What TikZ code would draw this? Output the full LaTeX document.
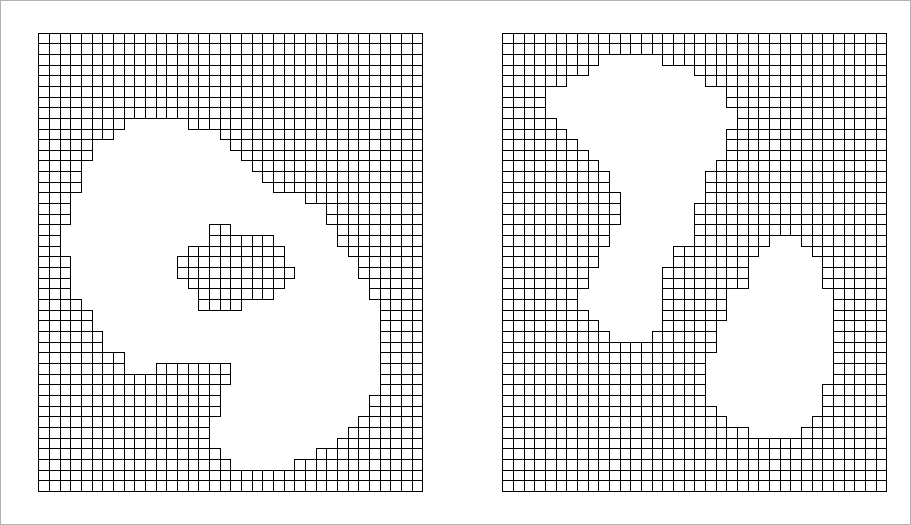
\documentclass[tikz,border=0pt]{standalone}
\begin{document}
\begin{tikzpicture}[x=0.3cm,y=-0.3cm,
  cell/.style={draw=black,line width=0.8pt},
  frame/.style={draw=black!30,line width=0.6pt}]
\useasboundingbox (0,0) rectangle (85.41,49.22);
\draw[frame] (0.05,0.05) rectangle (85.36,49.17);
% left grid
\begin{scope}[shift={(3.656,3.094)}]
\foreach \r/\a/\b in {0/0/35,1/0/35,2/0/35,3/0/35,4/0/35,5/0/35,6/0/35,7/0/35,
8/0/7,8/14/35,9/0/6,9/17/35,10/0/4,10/18/35,11/0/4,11/19/35,
12/0/3,12/20/35,13/0/3,13/21/35,14/0/3,14/22/35,15/0/2,15/25/35,
16/0/2,16/27/35,17/0/2,17/27/35,
18/0/1,18/16/17,18/28/35,19/0/1,19/16/21,19/28/35,
20/0/1,20/14/22,20/29/35,21/0/2,21/13/22,21/30/35,
22/0/2,22/13/23,22/30/35,23/0/2,23/14/22,23/31/35,
24/0/2,24/15/21,24/31/35,25/0/3,25/15/18,25/32/35,
26/0/4,26/32/35,27/0/4,27/32/35,28/0/5,28/32/35,29/0/5,29/32/35,
30/0/7,30/32/35,31/0/7,31/11/17,31/32/35,32/0/17,32/32/35,
33/0/16,33/32/35,34/0/16,34/31/35,35/0/16,35/31/35,
36/0/15,36/30/35,37/0/15,37/29/35,38/0/15,38/28/35,
39/0/16,39/26/35,40/0/17,40/24/35,41/0/35,42/0/35}{
  \foreach \c in {\a,...,\b}{\draw[cell] (\c,\r) rectangle ++(1,1);}
}
\end{scope}
% right grid
\begin{scope}[shift={(47.13,3.094)}]
\foreach \r/\a/\b in {0/0/35,1/0/35,2/0/8,2/15/35,3/0/7,3/18/35,4/0/5,4/19/35,
5/0/3,5/21/35,6/0/3,6/21/35,7/0/3,7/22/35,8/0/4,8/22/35,
9/0/5,9/21/35,10/0/6,10/21/35,11/0/7,11/21/35,12/0/8,12/20/35,
13/0/9,13/19/35,14/0/9,14/19/35,15/0/10,15/19/35,
16/0/10,16/18/35,17/0/10,17/18/35,
18/0/9,18/18/35,19/0/9,19/18/24,19/28/35,
20/0/8,20/16/23,20/29/35,21/0/8,21/16/22,21/30/35,
22/0/7,22/15/22,22/30/35,23/0/7,23/15/22,23/30/35,
24/0/6,24/15/20,24/31/35,25/0/6,25/15/20,25/31/35,
26/0/7,26/15/20,26/31/35,27/0/8,27/15/19,27/31/35,
28/0/9,28/14/19,28/31/35,29/0/19,29/31/35,
30/0/18,30/31/35,31/0/18,31/31/35,32/0/18,32/31/35,
33/0/18,33/30/35,34/0/18,34/30/35,35/0/19,35/30/35,
36/0/20,36/29/35,37/0/22,37/28/35,
38/0/35,39/0/35,40/0/35,41/0/35,42/0/35}{
  \foreach \c in {\a,...,\b}{\draw[cell] (\c,\r) rectangle ++(1,1);}
}
\end{scope}
\end{tikzpicture}
\end{document}
